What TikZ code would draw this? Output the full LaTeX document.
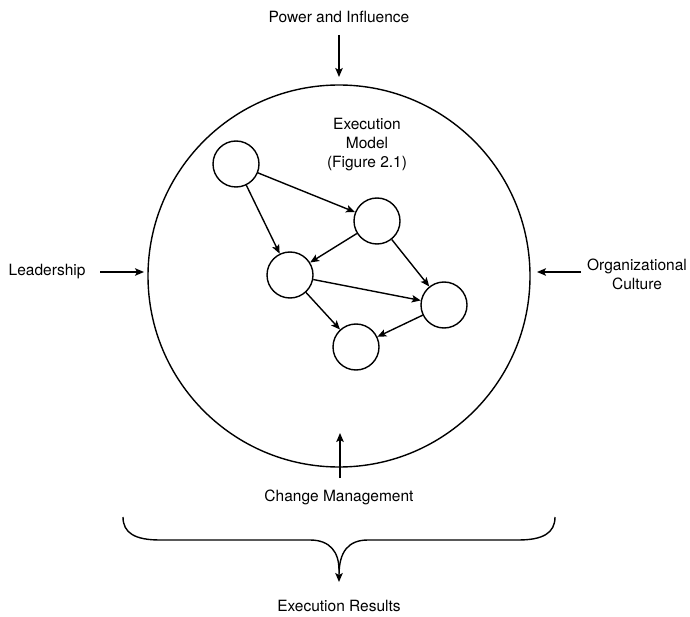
\documentclass[tikz,border=0pt]{standalone}
\usepackage{fontspec}
\setmainfont{TeX Gyre Heros}
\usetikzlibrary{arrows.meta}
\begin{document}
\begin{tikzpicture}[x=1pt,y=-1pt,
  line width=1.4pt,
  arr/.style={-{Stealth[length=9pt,width=7.5pt,inset=2pt]}},
  lbl/.style={font=\fontsize{15.5}{19}\selectfont, align=center, inner sep=0pt},
  small/.style={circle, draw, minimum size=46pt, inner sep=0pt}]
\useasboundingbox (0,0) rectangle (690,617);

% enclosing execution circle
\node[circle, draw, minimum size=382pt, inner sep=0pt] (big) at (339,276) {};

% execution model graph
\node[lbl] (model) at (367,145) {Execution\\Model\\(Figure 2.1)};
\node[small] (c1) at (236,164) {};
\node[small] (c2) at (377,221) {};
\node[small] (c3) at (290,275) {};
\node[small] (c4) at (444,305) {};
\node[small] (c5) at (356,347) {};
\draw[arr] (c1) -- (c2);
\draw[arr] (c1) -- (c3);
\draw[arr] (c2) -- (c3);
\draw[arr] (c2) -- (c4);
\draw[arr] (c3) -- (c4);
\draw[arr] (c3) -- (c5);
\draw[arr] (c4) -- (c5);

% outside influences
\node[lbl] (power) at (339,17) {Power and Influence};
\coordinate (powerA) at (339,35);
\coordinate (powerB) at (339,77);
\draw[arr] (powerA) -- (powerB);

\node[lbl, anchor=west] (lead) at (8,272) {Leadership};
\coordinate (leadA) at (100,272);
\coordinate (leadB) at (144,272);
\draw[arr] (leadA) -- (leadB);

\node[lbl] (culture) at (637,274) {Organizational\\Culture};
\coordinate (cultA) at (581,272);
\coordinate (cultB) at (537,272);
\draw[arr] (cultA) -- (cultB);

\node[lbl] (change) at (339,497) {Change Management};
\coordinate (chgA) at (340,478);
\coordinate (chgB) at (340,433);
\draw[arr] (chgA) -- (chgB);

% brace gathering into results
\coordinate (bl) at (123,517);
\coordinate (br) at (555,517);
\coordinate (tip) at (339,582);
\draw (bl) .. controls (123,533) and (135,540) .. (160,540) -- (310,540)
      .. controls (330,540) and (339,552) .. (339,570);
\draw[arr] (br) .. controls (555,533) and (543,540) .. (518,540) -- (368,540)
      .. controls (348,540) and (339,552) .. (tip);

\node[lbl] (results) at (339,606) {Execution Results};
\end{tikzpicture}
\end{document}
